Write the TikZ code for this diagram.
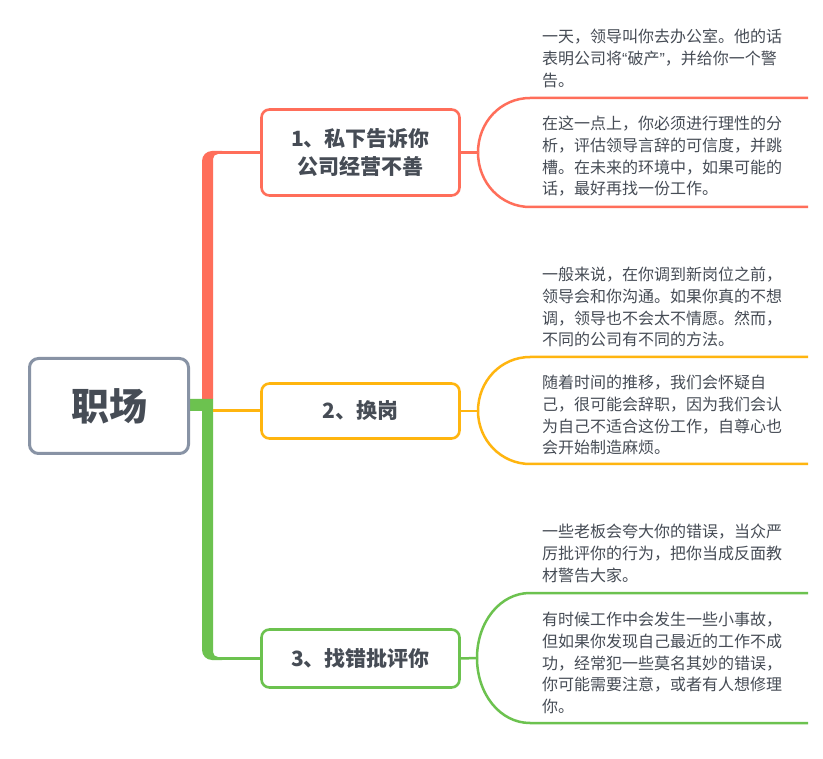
\documentclass[tikz,border=0pt]{standalone}
\usepackage{fontspec}
\setmainfont{Noto Sans CJK SC}
\newfontfamily\quotefont{Liberation Sans}
\usepackage{xcolor}
\usepackage{tikz}
\usetikzlibrary{positioning}
\definecolor{topicred}{HTML}{FF6E5A}
\definecolor{topicyellow}{HTML}{FFB50F}
\definecolor{topicgreen}{HTML}{6CC24F}
\definecolor{rootgray}{HTML}{8893A5}
\definecolor{inkgray}{HTML}{464C55}

\begin{document}
\begin{tikzpicture}[x=1pt, y=-1pt,
  topic/.style={draw, line width=2.6pt, rounded corners=8pt, fill=white, align=center, font=\fontsize{21}{28}\selectfont\bfseries, text=inkgray, minimum width=198pt, inner sep=0pt},
  note/.style={anchor=north west, align=left, inner sep=0pt, font=\fontsize{16}{21.7}\selectfont, text=inkgray},
  branch/.style={line width=2.5pt}]
\useasboundingbox[fill=white] (0,0) rectangle (823,759);
% trunk
\fill[topicred] (202,399) -- (202,161) arc[start angle=180, end angle=270, radius=10] -- (222,151) -- (222,154) -- (218,154) arc[start angle=270, end angle=180, radius=5] -- (213,399) -- cycle;
\fill[topicgreen] (190,399) -- (213,399) -- (213,652) arc[start angle=180, end angle=90, radius=5] -- (222,657) -- (222,660) -- (212,660) arc[start angle=90, end angle=180, radius=10] -- (202,411) -- (190,411) -- cycle;
\coordinate (s1) at (220,152.5);
\coordinate (s2) at (213,411);
\coordinate (s3) at (220,658.5);
% topics
\node[draw=rootgray, line width=3pt, rounded corners=9pt, fill=white, minimum width=159pt, minimum height=95pt, font=\fontsize{38}{40}\selectfont\bfseries, text=inkgray] (root) at (109,406) {职场};
\node[topic, draw=topicred, minimum height=86pt] (box1) at (360.5,152.5) {1、私下告诉你\\公司经营不善};
\node[topic, draw=topicyellow, minimum height=55pt] (box2) at (360.5,411) {2、换岗};
\node[topic, draw=topicgreen, minimum height=58pt] (box3) at (360.5,658.5) {3、找错批评你};
\draw[topicred, line width=3pt] (s1) -- (box1.west);
\draw[topicyellow, line width=3pt] (s2) -- (box2.west);
\draw[topicgreen, line width=3pt] (s3) -- (box3.west);
% braces
\coordinate (j1) at (478,152.5);
\coordinate (t1) at (808,98);
\coordinate (b1) at (808,207);
\draw[branch, topicred] (box1.east) -- (j1);
\draw[branch, topicred] (j1) .. controls (478,122) and (501,98) .. (530,98) -- (t1);
\draw[branch, topicred] (j1) .. controls (478,183) and (501,207) .. (530,207) -- (b1);
\coordinate (j2) at (478,411);
\coordinate (t2) at (808,357);
\coordinate (b2) at (808,464);
\draw[branch, topicyellow] (box2.east) -- (j2);
\draw[branch, topicyellow] (j2) .. controls (478,381) and (501,357) .. (530,357) -- (t2);
\draw[branch, topicyellow] (j2) .. controls (478,440) and (501,464) .. (530,464) -- (b2);
\coordinate (j3) at (477,658);
\coordinate (t3) at (808,593);
\coordinate (b3) at (808,723);
\draw[branch, topicgreen] (box3.east) -- (j3);
\draw[branch, topicgreen] (j3) .. controls (477,622) and (500,593) .. (530,593) -- (t3);
\draw[branch, topicgreen] (j3) .. controls (477,694) and (500,723) .. (530,723) -- (b3);
% notes
\node[note] (n1a) at (542,29) {一天，领导叫你去办公室。他的话\\表明公司将{\quotefont “}破产{\quotefont ”}，并给你一个警\\告。};
\node[note] (n1b) at (542,116) {在这一点上，你必须进行理性的分\\析，评估领导言辞的可信度，并跳\\槽。在未来的环境中，如果可能的\\话，最好再找一份工作。};
\node[note] (n2a) at (542,267) {一般来说，在你调到新岗位之前，\\领导会和你沟通。如果你真的不想\\调，领导也不会太不情愿。然而，\\不同的公司有不同的方法。};
\node[note] (n2b) at (542,375) {随着时间的推移，我们会怀疑自\\己，很可能会辞职，因为我们会认\\为自己不适合这份工作，自尊心也\\会开始制造麻烦。};
\node[note] (n3a) at (542,524) {一些老板会夸大你的错误，当众严\\厉批评你的行为，把你当成反面教\\材警告大家。};
\node[note] (n3b) at (542,612) {有时候工作中会发生一些小事故，\\但如果你发现自己最近的工作不成\\功，经常犯一些莫名其妙的错误，\\你可能需要注意，或者有人想修理\\你。};
\end{tikzpicture}
\end{document}
